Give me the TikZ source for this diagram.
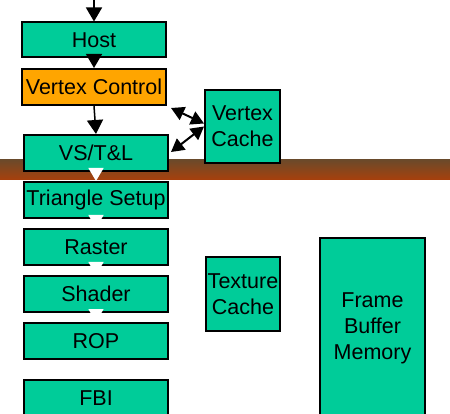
\documentclass[tikz,border=0pt]{standalone}
\usepackage{fontspec}
\setmainfont{Liberation Sans}
\usetikzlibrary{arrows.meta}
\definecolor{unitgreen}{RGB}{0,204,153}
\definecolor{unitorange}{RGB}{255,165,0}
\definecolor{bandtop}{RGB}{108,74,42}
\definecolor{bandbottom}{RGB}{168,64,12}

\begin{document}
\begin{tikzpicture}
	[x=1pt,y=-1pt%
	,every node/.style={font=\fontsize{21.5}{26}\selectfont,%
		align=center,%
		draw=black,%
		line width=2pt,%
		inner sep=1pt}%
	,unit/.style={fill=unitgreen,%
		minimum width=144pt,%
		minimum height=36pt}%
	,cache/.style={fill=unitgreen,%
		minimum width=75pt,%
		minimum height=74pt}%
	,flow/.style={line width=1.5pt,%
		-{Triangle[width=16pt,length=14pt]}}%
	,whiteflow/.style={draw=white,line width=1.5pt,%
		-{Triangle[width=15pt,length=13pt]}}%
	,dflow/.style={line width=2pt,%
		{Triangle[width=14pt,length=13pt]}-{Triangle[width=14pt,length=13pt]}}]
	\useasboundingbox (0,0) rectangle (450,414);
	\shade[top color=bandtop,bottom color=bandbottom] (0,160) rectangle (450,180);
	\node[unit,minimum height=35pt] (host) at (94,40) {Host};
	\node[unit,fill=unitorange] (vc) at (94,87) {Vertex Control};
	\node[unit] (vstl) at (96,153) {VS/T\&L};
	\node[cache,minimum height=73pt] (vcache) at (242.5,126.5) {Vertex\\Cache};
	\node[unit] (tsetup) at (96,200) {Triangle Setup};
	\node[unit] (raster) at (96,247) {Raster};
	\node[unit] (shader) at (96,294) {Shader};
	\node[unit] (rop) at (96,341) {ROP};
	\node[unit] (fbi) at (96,398) {FBI};
	\node[cache,minimum width=74pt] (tcache) at (243,294) {Texture\\Cache};
	\node[unit,minimum width=105pt,minimum height=180pt] (fbm) at (372.5,328)
		{Frame\\Buffer\\Memory};
	\coordinate (input) at (94,0);
	% front end
	\draw[flow] (input) -- (host);
	\draw[flow] (host) -- (vc);
	\draw[flow] (vc.south) -- (vstl.north);
	\draw[dflow] ([xshift=4pt,yshift=-2pt]vc.south east) -- ([yshift=3pt]vcache.west);
	\draw[dflow] ([xshift=2pt,yshift=1pt]vstl.east) -- (vcache.west);
	% pixel pipe
	\draw[whiteflow] (vstl.south) -- (tsetup.north);
	\draw[whiteflow] (tsetup.south) -- (raster.north);
	\draw[whiteflow] (raster.south) -- (shader.north);
	\draw[whiteflow] (shader.south) -- (rop.north);
\end{tikzpicture}
\end{document}
